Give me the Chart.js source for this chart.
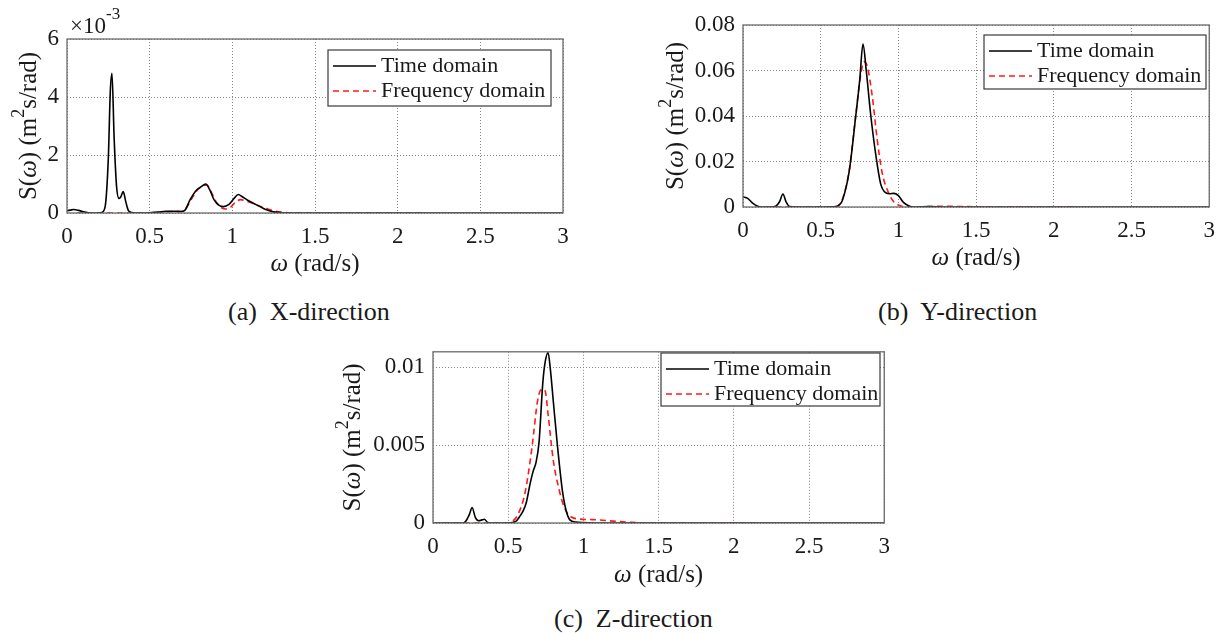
<!DOCTYPE html>
<html lang="en">
<head>
<meta charset="UTF-8" />
<script src="https://cdn.jsdelivr.net/npm/chart.js"></script>
<title>Spectra S(ω)</title>
<style>
  body { margin: 0; background: #fff; width: 1225px; height: 633px; position: relative; overflow: hidden; }
  canvas { position: absolute; }
  .cap { position: absolute; font-family: "Liberation Serif", "Times New Roman", serif; font-size: 26px; color: #1a1a1a; white-space: pre; line-height: 30px; }
</style>
</head>
<body>
<canvas id="chartX" width="600" height="285" style="left:0;top:0"></canvas>
<canvas id="chartY" width="585" height="285" style="left:640px;top:0"></canvas>
<canvas id="chartZ" width="570" height="265" style="left:330px;top:330px"></canvas>
<div class="cap" style="left:228px;top:297px">(a)  X-direction</div>
<div class="cap" style="left:878px;top:297px">(b)  Y-direction</div>
<div class="cap" style="left:554px;top:604px">(c)  Z-direction</div>
<script>
// shared frequency axis
var xTicks = [0, 0.5, 1, 1.5, 2, 2.5, 3];
var xTickLabels = ["0", "0.5", "1", "1.5", "2", "2.5", "3"];
var seriesNames = ["Time domain", "Frequency domain"];

// X-direction (values in 10^-3 m^2 s/rad)
var omegaTimeX = [0, 0.02, 0.04, 0.07, 0.1, 0.13, 0.17, 0.21, 0.23, 0.25, 0.262, 0.272, 0.285, 0.3, 0.315, 0.325, 0.34, 0.355, 0.37, 0.39, 0.45, 0.5, 0.55, 0.6, 0.65, 0.69, 0.714, 0.744, 0.784, 0.81, 0.839, 0.865, 0.89, 0.92, 0.946, 0.98, 1.01, 1.036, 1.06, 1.09, 1.13, 1.17, 1.21, 1.25, 1.3, 1.4, 1.6, 2, 2.5, 3];
var psdTimeX = [0.08, 0.1, 0.12, 0.09, 0.04, 0.01, 0, 0.02, 0.2, 1.9, 4.2, 4.82, 2.6, 0.9, 0.5, 0.55, 0.74, 0.4, 0.1, 0.02, 0, 0.01, 0.03, 0.06, 0.06, 0.05, 0.1, 0.45, 0.79, 0.9, 1.0, 0.78, 0.45, 0.26, 0.22, 0.3, 0.5, 0.64, 0.56, 0.45, 0.33, 0.21, 0.1, 0.04, 0.01, 0, 0, 0, 0, 0];
var omegaFreqX = [0.06, 0.2, 0.4, 0.5, 0.55, 0.6, 0.65, 0.7, 0.73, 0.76, 0.79, 0.82, 0.845, 0.87, 0.9, 0.93, 0.96, 0.99, 1.02, 1.05, 1.08, 1.12, 1.16, 1.2, 1.25, 1.3, 1.4, 1.6, 2.0, 2.15];
var psdFreqX = [0, 0, 0, 0, 0.01, 0.04, 0.05, 0.06, 0.25, 0.55, 0.8, 0.93, 0.97, 0.75, 0.4, 0.2, 0.14, 0.2, 0.38, 0.46, 0.42, 0.34, 0.25, 0.17, 0.08, 0.03, 0.005, 0, 0, 0];
var yTicksX = [0, 2, 4, 6];
var yTickLabelsX = ["0", "2", "4", "6"];

// Y-direction
var omegaTimeY = [0, 0.03, 0.06, 0.09, 0.12, 0.18, 0.21, 0.235, 0.257, 0.277, 0.3, 0.35, 0.5, 0.598, 0.62, 0.64, 0.683, 0.725, 0.751, 0.772, 0.793, 0.821, 0.853, 0.885, 0.917, 0.945, 0.97, 1.0, 1.034, 1.076, 1.1, 1.2, 1.3, 1.5, 2, 2.5, 3];
var psdTimeY = [0.0045, 0.0038, 0.0018, 0.0005, 0, 0, 0.0003, 0.0023, 0.0057, 0.0023, 0.0002, 0, 0, 0.0002, 0.001, 0.003, 0.0155, 0.0397, 0.0558, 0.0716, 0.06, 0.041, 0.0236, 0.0104, 0.0063, 0.0058, 0.006, 0.005, 0.0019, 0.0002, 0, 0.0002, 0, 0, 0, 0, 0];
var omegaFreqY = [0.08, 0.3, 0.5, 0.6, 0.64, 0.683, 0.725, 0.755, 0.779, 0.8, 0.832, 0.864, 0.896, 0.938, 0.97, 1.0, 1.05, 1.3, 1.6, 2.0, 2.15];
var psdFreqY = [0, 0, 0, 0.0002, 0.0035, 0.016, 0.04, 0.057, 0.0639, 0.0617, 0.0485, 0.0294, 0.0148, 0.006, 0.0023, 0.0009, 0, 0.0003, 0, 0, 0];
var yTicksY = [0, 0.02, 0.04, 0.06, 0.08];
var yTickLabelsY = ["0", "0.02", "0.04", "0.06", "0.08"];

// Z-direction
var omegaTimeZ = [0, 0.1, 0.2, 0.22, 0.242, 0.26, 0.282, 0.304, 0.325, 0.341, 0.363, 0.39, 0.5, 0.55, 0.575, 0.6, 0.62, 0.645, 0.665, 0.685, 0.705, 0.73, 0.745, 0.765, 0.78, 0.8, 0.827, 0.86, 0.885, 0.91, 0.95, 1.0, 1.1, 1.5, 2, 2.5, 3];
var psdTimeZ = [0, 0, 0, 0.00014, 0.00055, 0.001, 0.00034, 0.00014, 0.0002, 0.00024, 0.00004, 0, 0, 0.0001, 0.0004, 0.0008, 0.0013, 0.0025, 0.0033, 0.0039, 0.0052, 0.009, 0.0103, 0.01095, 0.0099, 0.0078, 0.005, 0.0021, 0.0008, 0.0002, 0.00006, 0.00003, 0, 0, 0, 0, 0];
var omegaFreqZ = [0.07, 0.3, 0.5, 0.52, 0.566, 0.613, 0.66, 0.696, 0.724, 0.745, 0.766, 0.8, 0.837, 0.873, 0.908, 0.967, 1.06, 1.2, 1.32, 1.44, 2.0, 2.15];
var psdFreqZ = [0, 0, 0, 0.00005, 0.00057, 0.002, 0.005, 0.0079, 0.0086, 0.0085, 0.0069, 0.004, 0.0022, 0.001, 0.00047, 0.00026, 0.00022, 0.00012, 0.00004, 0, 0, 0];
var yTicksZ = [0, 0.005, 0.01];
var yTickLabelsZ = ["0", "0.005", "0.01"];

var serif = "'Liberation Serif', 'Times New Roman', serif";
var textColor = "#1a1a1a";

// axis titles as runs: [text, style]; style "i" italic, "s" superscript
var xTitleRuns = [["ω", "i"], [" (rad/s)", ""]];
var yTitleRuns = [["S(", ""], ["ω", "i"], [") (m", ""], ["2", "s"], ["s/rad)", ""]];

function pts(xs, ys) {
  return xs.map(function (x, i) { return { x: x, y: ys[i] }; });
}

function runFont(style, size) {
  if (style === "i") return "italic " + size + "px " + serif;
  if (style === "s") return Math.round(size * 0.7) + "px " + serif;
  return size + "px " + serif;
}

// draws a line of mixed-style text centred on (0, 0) of the current transform
function drawRuns(ctx, runs, size) {
  var total = 0;
  runs.forEach(function (r) { ctx.font = runFont(r[1], size); total += ctx.measureText(r[0]).width; });
  var x = -total / 2;
  runs.forEach(function (r) {
    ctx.font = runFont(r[1], size);
    ctx.fillText(r[0], x, r[1] === "s" ? -size * 0.38 : 0);
    x += ctx.measureText(r[0]).width;
  });
}

// axes box, titles, legend and the exponent note
var framePlugin = {
  id: "frame",
  afterDatasetsDraw: function (chart, args, opts) {
    var a = chart.chartArea, ctx = chart.ctx;
    ctx.save();
    ctx.strokeStyle = "#6a6a6a";
    ctx.lineWidth = 1.3;
    ctx.strokeRect(a.left, a.top, a.right - a.left, a.bottom - a.top);

    ctx.fillStyle = textColor;
    ctx.textBaseline = "middle";
    ctx.save();
    ctx.translate((a.left + a.right) / 2, opts.xTitleY);
    drawRuns(ctx, xTitleRuns, 25);
    ctx.restore();
    ctx.save();
    ctx.translate(opts.yTitleX, (a.top + a.bottom) / 2);
    ctx.rotate(-Math.PI / 2);
    drawRuns(ctx, yTitleRuns, 25);
    ctx.restore();

    var lg = opts.legend;
    ctx.fillStyle = "#fff";
    ctx.fillRect(lg.x, lg.y, lg.w, lg.h);
    ctx.strokeStyle = "#3a3a3a";
    ctx.lineWidth = 1.2;
    ctx.strokeRect(lg.x, lg.y, lg.w, lg.h);
    ctx.font = "22px " + serif;
    chart.data.datasets.forEach(function (ds, i) {
      var y = lg.y + 16 + i * 25;
      ctx.beginPath();
      ctx.setLineDash(ds.borderDash || []);
      ctx.strokeStyle = ds.borderColor;
      ctx.lineWidth = ds.borderWidth;
      ctx.moveTo(lg.x + 5, y);
      ctx.lineTo(lg.x + 48, y);
      ctx.stroke();
      ctx.setLineDash([]);
      ctx.fillStyle = textColor;
      ctx.fillText(ds.label, lg.x + 53, y);
    });

    if (opts.exponent) {
      ctx.fillStyle = textColor;
      ctx.font = "23px " + serif;
      ctx.fillText("\u00d710", a.left + 3, a.top - 12);
      var w = ctx.measureText("\u00d710").width;
      ctx.font = "17px " + serif;
      ctx.fillText(opts.exponent, a.left + 3 + w, a.top - 24);
    }
    ctx.restore();
  }
};

function makeChart(id, cfg) {
  return new Chart(document.getElementById(id), {
    type: "line",
    data: {
      datasets: [
        {
          label: seriesNames[0],
          data: pts(cfg.omegaTime, cfg.psdTime),
          borderColor: "#000000",
          borderWidth: 1.6,
          pointRadius: 0,
          cubicInterpolationMode: "monotone"
        },
        {
          label: seriesNames[1],
          data: pts(cfg.omegaFreq, cfg.psdFreq),
          borderColor: "#ff1a1a",
          borderWidth: 1.6,
          borderDash: [6, 4],
          pointRadius: 0,
          cubicInterpolationMode: "monotone"
        }
      ]
    },
    options: {
      responsive: false,
      animation: false,
      events: [],
      layout: { padding: { left: 0, top: cfg.top, right: cfg.right, bottom: 0 } },
      plugins: {
        legend: { display: false },
        tooltip: { enabled: false },
        frame: { legend: cfg.legend, exponent: cfg.exponent, xTitleY: cfg.xTitleY, yTitleX: cfg.yTitleX }
      },
      scales: {
        x: {
          type: "linear",
          min: 0,
          max: 3,
          afterBuildTicks: function (s) { s.ticks = xTicks.map(function (v) { return { value: v }; }); },
          afterFit: function (s) { s.height = cfg.xAxisHeight; },
          grid: { color: "#858585", lineWidth: 1, drawTicks: false, borderDash: [1, 2] },
          border: { display: false, dash: [1, 2] },
          ticks: {
            autoSkip: false,
            maxRotation: 0,
            padding: 10,
            color: textColor,
            font: { family: serif, size: 23 },
            callback: function (v) { return xTickLabels[xTicks.indexOf(v)]; }
          }
        },
        y: {
          min: 0,
          max: cfg.yMax,
          afterBuildTicks: function (s) { s.ticks = cfg.yTicks.map(function (v) { return { value: v }; }); },
          afterFit: function (s) { s.width = cfg.yAxisWidth; },
          grid: { color: "#858585", lineWidth: 1, drawTicks: false, borderDash: [1, 2] },
          border: { display: false, dash: [1, 2] },
          ticks: {
            padding: 8,
            color: textColor,
            font: { family: serif, size: 23 },
            callback: function (v) { return cfg.yTickLabels[cfg.yTicks.indexOf(v)]; }
          }
        }
      }
    },
    plugins: [framePlugin]
  });
}

makeChart("chartX", {
  omegaTime: omegaTimeX, psdTime: psdTimeX, omegaFreq: omegaFreqX, psdFreq: psdFreqX,
  yTicks: yTicksX, yTickLabels: yTickLabelsX, yMax: 6, exponent: "-3",
  top: 39, right: 37, yAxisWidth: 67, xAxisHeight: 72, yTitleX: 29, xTitleY: 264,
  legend: { x: 328, y: 50, w: 223, h: 56 }
});

makeChart("chartY", {
  omegaTime: omegaTimeY, psdTime: psdTimeY, omegaFreq: omegaFreqY, psdFreq: psdFreqY,
  yTicks: yTicksY, yTickLabels: yTickLabelsY, yMax: 0.08,
  top: 25, right: 12, yAxisWidth: 103, xAxisHeight: 78, yTitleX: 36, xTitleY: 258,
  legend: { x: 344, y: 35, w: 222, h: 54 }
});

makeChart("chartZ", {
  omegaTime: omegaTimeZ, psdTime: psdTimeZ, omegaFreq: omegaFreqZ, psdFreq: psdFreqZ,
  yTicks: yTicksZ, yTickLabels: yTickLabelsZ, yMax: 0.011,
  top: 13, right: 13, yAxisWidth: 103, xAxisHeight: 72, yTitleX: 23, xTitleY: 245,
  legend: { x: 331, y: 23, w: 219, h: 53 }
});
</script>
</body>
</html>
